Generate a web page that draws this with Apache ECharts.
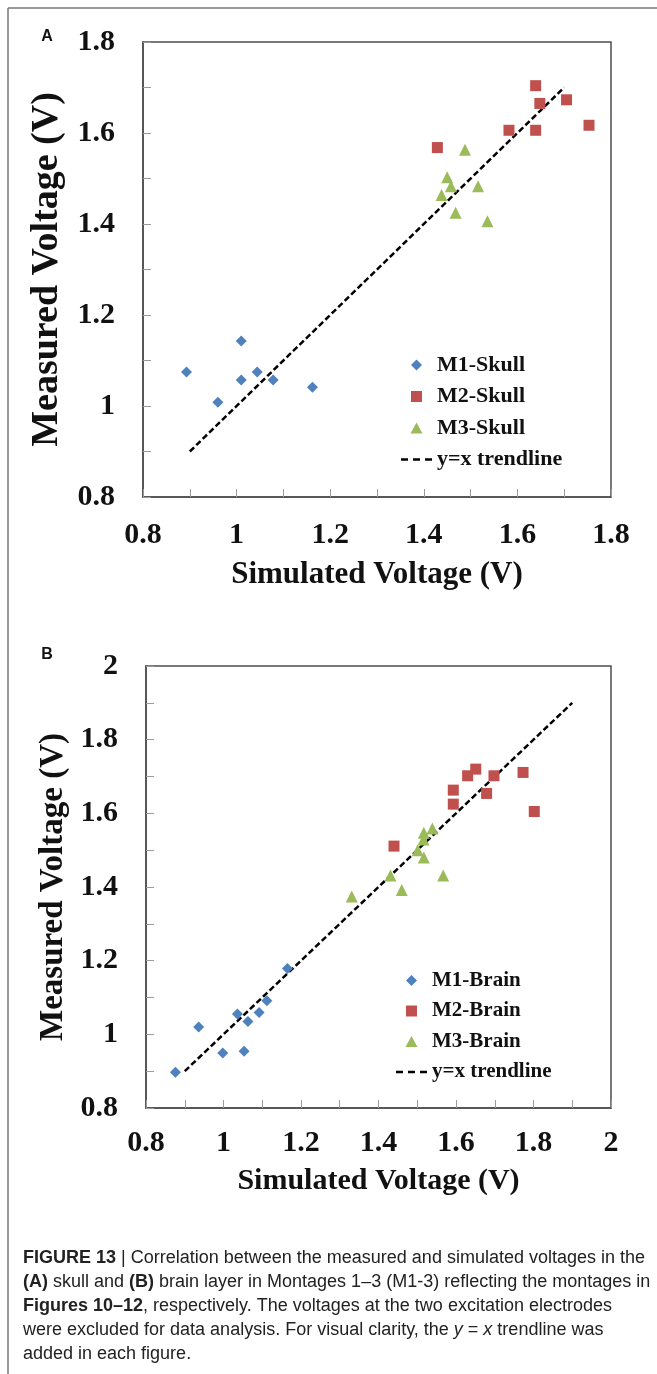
<!DOCTYPE html>
<html>
<head>
<meta charset="utf-8">
<script src="https://cdn.jsdelivr.net/npm/echarts@6/dist/echarts.min.js"></script>
<style>
html,body{margin:0;padding:0;background:#fff;}
#chart{width:657px;height:1374px;}
</style>
</head>
<body>
<div id="chart"></div>
<script>
// ---- Panel A (skull) ----
const m1SkullX = [0.893, 0.960, 1.010, 1.010, 1.044, 1.078, 1.162];
const m1SkullY = [1.075, 1.008, 1.143, 1.057, 1.075, 1.057, 1.041];
const m2SkullX = [1.429, 1.582, 1.639, 1.639, 1.648, 1.705, 1.753];
const m2SkullY = [1.568, 1.606, 1.606, 1.704, 1.665, 1.673, 1.617];
const m3SkullX = [1.488, 1.450, 1.458, 1.438, 1.468, 1.516, 1.536];
const m3SkullY = [1.563, 1.503, 1.483, 1.464, 1.425, 1.483, 1.406];
const trendA = [0.9, 1.7];

// ---- Panel B (brain) ----
const m1BrainX = [0.876, 0.936, 0.998, 1.036, 1.053, 1.063, 1.092, 1.112, 1.165];
const m1BrainY = [0.897, 1.020, 0.949, 1.055, 0.954, 1.035, 1.059, 1.091, 1.179];
const m2BrainX = [1.440, 1.593, 1.593, 1.630, 1.651, 1.679, 1.698, 1.773, 1.802];
const m2BrainY = [1.511, 1.663, 1.625, 1.702, 1.720, 1.654, 1.702, 1.711, 1.605];
const m3BrainX = [1.331, 1.431, 1.460, 1.501, 1.517, 1.516, 1.517, 1.539, 1.567];
const m3BrainY = [1.374, 1.431, 1.392, 1.500, 1.547, 1.529, 1.480, 1.559, 1.431];
const trendB = [0.9, 1.9];

// axes
const axisA = {min: 0.8, max: 1.8, interval: 0.2};
const axisB = {min: 0.8, max: 2.0, interval: 0.2};
const xTitle = 'Simulated Voltage (V)';
const yTitle = 'Measured Voltage (V)';

const legendA = ['M1-Skull', 'M2-Skull', 'M3-Skull', 'y=x trendline'];
const legendB = ['M1-Brain', 'M2-Brain', 'M3-Brain', 'y=x trendline'];

const captionLines = [
  '{b|FIGURE 13} | Correlation between the measured and simulated voltages in the',
  '{b|(A)} skull and {b|(B)} brain layer in Montages 1\u20133 (M1-3) reflecting the montages in',
  '{b|Figures 10\u201312}, respectively. The voltages at the two excitation electrodes',
  'were excluded for data analysis. For visual clarity, the {i|y} = {i|x} trendline was',
  'added in each figure.'
];

const zip = (xs, ys) => xs.map((x, i) => [x, ys[i]]);
const SERIF = 'Liberation Serif';
const BLUE = '#4F81BD', RED = '#C0504D', GREEN = '#9BBB59';
const FRAME = '#4d4d4d';

// legend icons drawn inside a 31x12 box (corner moveTo points fix the box)
const BOX = 'M0,0M31,12';
const ICONS = [
  'path://' + BOX + 'M15.5,0.5L21,6L15.5,11.5L10,6Z',
  'path://' + BOX + 'M10,0.5H21V11.5H10Z',
  'path://' + BOX + 'M15.5,0.5L21.5,11.5L9.5,11.5Z',
  'path://' + BOX + 'M0,4.7H7V7.3H0ZM12,4.7H19V7.3H12ZM24,4.7H31V7.3H24Z'
];
const ICON_COLORS = [BLUE, RED, GREEN, '#000'];

function makeAxis(gridIndex, range, isX, nameSize, nameGap, labelMargin) {
  return {
    type: 'value', gridIndex: gridIndex,
    min: range.min, max: range.max, interval: range.interval,
    name: isX ? xTitle : yTitle,
    nameLocation: 'middle', nameGap: nameGap,
    nameTextStyle: {fontFamily: SERIF, fontWeight: 'bold', fontSize: nameSize, color: '#111'},
    axisLine: {show: true, lineStyle: {color: FRAME, width: 1.5}},
    axisTick: {show: true, inside: true, length: 8, lineStyle: {color: '#9a9a9a', width: 1}},
    minorTick: {show: true, splitNumber: 2, length: 8, lineStyle: {color: '#9a9a9a', width: 1}},
    splitLine: {show: false},
    axisLabel: {fontFamily: SERIF, fontWeight: 'bold', fontSize: 30, color: '#111', margin: labelMargin}
  };
}

function scatter(name, xi, data, symbol, size, color) {
  return {
    type: 'scatter', name: name, xAxisIndex: xi, yAxisIndex: xi,
    data: data, symbol: symbol, symbolSize: size,
    itemStyle: {color: color, opacity: 1}, z: 3
  };
}
function trend(xi, ends) {
  return {
    type: 'line', name: 'y=x trendline', xAxisIndex: xi, yAxisIndex: xi,
    data: ends.map(v => [v, v]), symbol: 'none', silent: true,
    itemStyle: {color: '#000'},
    lineStyle: {color: '#000', width: 2.5, type: [6, 3]}, z: 2
  };
}
function legend(names, left, top, fs, gap) {
  return {
    orient: 'vertical', left: left, top: top, itemWidth: 31, itemHeight: 12,
    itemGap: gap, selectedMode: false,
    textStyle: {fontFamily: SERIF, fontWeight: 'bold', fontSize: fs, color: '#111'},
    data: names.map((n, i) => ({name: n, icon: ICONS[i], itemStyle: {color: ICON_COLORS[i]}}))
  };
}

const chart = echarts.init(document.getElementById('chart'), null, {renderer: 'canvas'});
chart.setOption({
  backgroundColor: '#fff',
  animation: false,
  grid: [
    {left: 143, top: 42, width: 468, height: 455, show: true, borderColor: FRAME, borderWidth: 1.5},
    {left: 146, top: 666, width: 465, height: 442, show: true, borderColor: FRAME, borderWidth: 1.5}
  ],
  xAxis: [makeAxis(0, axisA, true, 31, 62, 23), makeAxis(1, axisB, true, 30, 58, 20)],
  yAxis: [makeAxis(0, axisA, false, 38, 76, 28), makeAxis(1, axisB, false, 33, 75, 28)],
  legend: [legend(legendA, 396, 349, 22, 9.5), legend(legendB, 391, 965, 21, 9.5)],
  series: [
    scatter('M1-Skull', 0, zip(m1SkullX, m1SkullY), 'diamond', 11, BLUE),
    scatter('M2-Skull', 0, zip(m2SkullX, m2SkullY), 'rect', 11, RED),
    scatter('M3-Skull', 0, zip(m3SkullX, m3SkullY), 'triangle', 12, GREEN),
    trend(0, trendA),
    scatter('M1-Brain', 1, zip(m1BrainX, m1BrainY), 'diamond', 11, BLUE),
    scatter('M2-Brain', 1, zip(m2BrainX, m2BrainY), 'rect', 11, RED),
    scatter('M3-Brain', 1, zip(m3BrainX, m3BrainY), 'triangle', 12, GREEN),
    trend(1, trendB)
  ],
  graphic: [
    {type: 'line', shape: {x1: 8, y1: 8, x2: 657, y2: 8}, style: {stroke: '#777', lineWidth: 1.5}},
    {type: 'line', shape: {x1: 8, y1: 8, x2: 8, y2: 1374}, style: {stroke: '#777', lineWidth: 1.5}},
    {type: 'text', x: 47, y: 37, style: {text: 'A', font: 'bold 16px "Liberation Sans"', fill: '#111', align: 'center', verticalAlign: 'middle'}},
    {type: 'text', x: 47, y: 655, style: {text: 'B', font: 'bold 16px "Liberation Sans"', fill: '#111', align: 'center', verticalAlign: 'middle'}},
    {type: 'text', x: 23, y: 1246, style: {
      text: captionLines.join('\n'),
      fontFamily: 'Liberation Sans', fontSize: 18, lineHeight: 24, fill: '#222',
      rich: {
        b: {fontFamily: 'Liberation Sans', fontSize: 18, lineHeight: 24, fontWeight: 'bold', fill: '#222'},
        i: {fontFamily: 'Liberation Sans', fontSize: 18, lineHeight: 24, fontStyle: 'italic', fill: '#222'}
      }
    }}
  ]
});
</script>
</body>
</html>
